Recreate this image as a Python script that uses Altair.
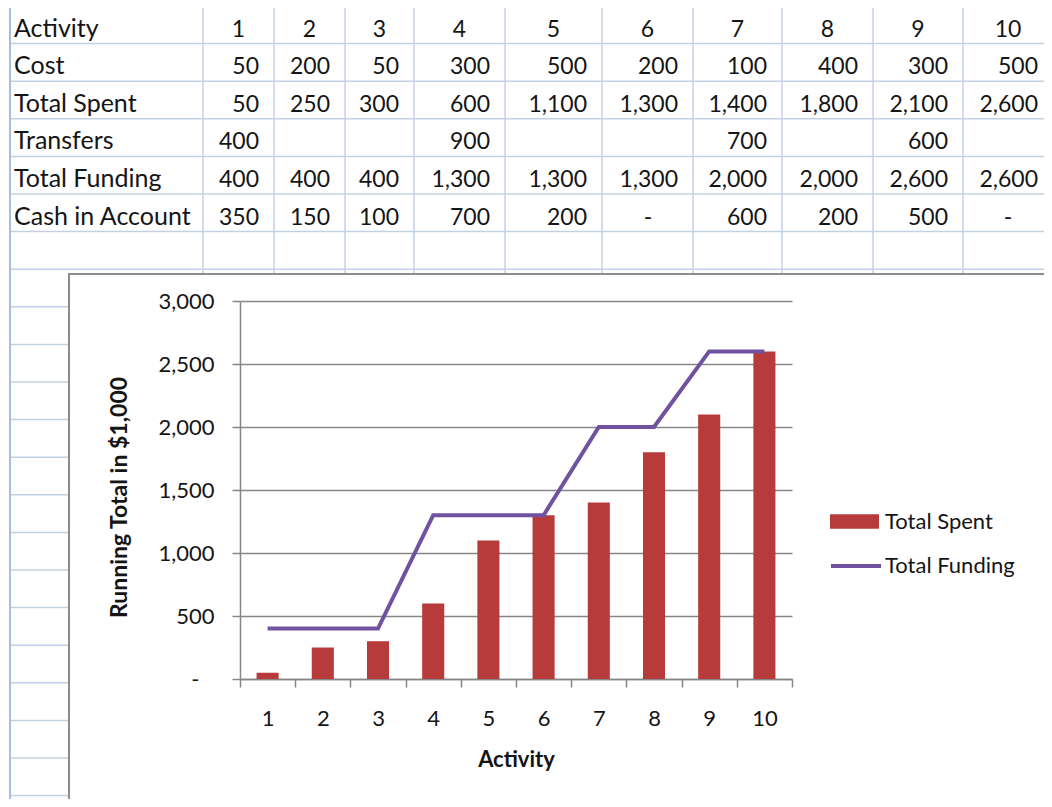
import altair as alt
import pandas as pd

# ---------------- data ----------------
activity = [1, 2, 3, 4, 5, 6, 7, 8, 9, 10]
cost = [50, 200, 50, 300, 500, 200, 100, 400, 300, 500]
total_spent = [50, 250, 300, 600, 1100, 1300, 1400, 1800, 2100, 2600]
transfers = [400, None, None, 900, None, None, 700, None, 600, None]
total_funding = [400, 400, 400, 1300, 1300, 1300, 2000, 2000, 2600, 2600]
cash_in_account = [350, 150, 100, 700, 200, 0, 600, 200, 500, 0]
row_labels = ["Activity", "Cost", "Total Spent", "Transfers", "Total Funding", "Cash in Account"]
series_names = ["Total Spent", "Total Funding"]
y_ticks = [0, 500, 1000, 1500, 2000, 2500, 3000]

# ---------------- layout / style ----------------
W, H = 1036, 791
FONT = "Lato"
TXT = "#151515"
SHEET_LINE = "#c3d0e4"
AX = "#868686"
BAR = "#b83b3b"
LINE = "#7052a0"
col_edges = [2, 195, 266, 337, 406, 497, 594, 685, 774, 865, 955, 1045]
n_sheet_rows = 22
row_top, row_h = -2, 37.6
frame_box = dict(x=61, x2=1040, y=266)
plot_x_range = [232, 784]
plot_y_range = [671, 293]

sx = alt.Scale(domain=[0, W], range=[0, W])
sy = alt.Scale(domain=[0, n_sheet_rows - 1], range=[row_top, row_top + row_h * (n_sheet_rows - 1)])

# ---------------- spreadsheet background ----------------
rows = [activity, cost, total_spent, transfers, total_funding, cash_in_account]
cells = []
for r, (lab, vals) in enumerate(zip(row_labels, rows)):
    cells.append(dict(row=r + 1, xp=col_edges[0], text=lab, kind="label"))
    for c, v in enumerate(vals):
        if v is None:
            continue
        if r == 0:
            cells.append(dict(row=r + 1, xp=(col_edges[c + 1] + col_edges[c + 2]) / 2, text=str(v), kind="center"))
        elif v == 0:
            cells.append(dict(row=r + 1, xp=col_edges[c + 2], text="-", kind="dash"))
        else:
            cells.append(dict(row=r + 1, xp=col_edges[c + 2], text=f"{v:,}", kind="num"))
cells_df = pd.DataFrame(cells)


def text_layer(kind, align, dx, size):
    return alt.Chart(cells_df[cells_df.kind == kind]).mark_text(
        align=align, baseline="alphabetic", dx=dx, dy=-7, font=FONT, fontSize=size, color=TXT
    ).encode(
        x=alt.X("xp:Q", scale=sx, axis=None),
        y=alt.Y("row:Q", scale=sy, axis=None),
        text="text:N",
    )


row_bounds = [k for k in range(n_sheet_rows)]
upper_rows = [k for k in row_bounds if row_top + row_h * k < frame_box["y"]]
lower_rows = [k for k in row_bounds if row_top + row_h * k >= frame_box["y"]]

hlines_top = alt.Chart(pd.DataFrame({"k": upper_rows})).mark_rule(
    color=SHEET_LINE, strokeWidth=1.5
).encode(y=alt.Y("k:Q", scale=sy, axis=None), x=alt.value(2), x2=alt.value(W))

hlines_low = alt.Chart(pd.DataFrame({"k": lower_rows})).mark_rule(
    color=SHEET_LINE, strokeWidth=1.5
).encode(y=alt.Y("k:Q", scale=sy, axis=None), x=alt.value(2), x2=alt.value(frame_box["x"]))

vlines = alt.Chart(pd.DataFrame({"e": col_edges[1:]})).mark_rule(
    color=SHEET_LINE, strokeWidth=1.5
).encode(x=alt.X("e:Q", scale=sx, axis=None), y=alt.value(0), y2=alt.value(frame_box["y"]))

left_line = alt.Chart(pd.DataFrame({"e": col_edges[:1]})).mark_rule(
    color="#a9bedd", strokeWidth=2
).encode(x=alt.X("e:Q", scale=sx, axis=None), y=alt.value(0), y2=alt.value(H))

sheet = alt.layer(
    hlines_top, hlines_low, vlines, left_line,
    text_layer("label", "left", 4, 25),
    text_layer("center", "center", 0, 23),
    text_layer("num", "right", -15, 23),
    text_layer("dash", "center", -45, 23),
)

frame = alt.Chart(pd.DataFrame({"a": [0]})).mark_rect(
    fill="white", fillOpacity=0, stroke="#8c8c8c", strokeWidth=2
).encode(
    x=alt.value(frame_box["x"]), x2=alt.value(frame_box["x2"]),
    y=alt.value(frame_box["y"]), y2=alt.value(H + 20),
)

# ---------------- the chart ----------------
chart_df = pd.DataFrame({
    "Activity": activity + activity,
    "value": total_spent + total_funding,
    "series": [series_names[0]] * len(activity) + [series_names[1]] * len(activity),
})

x_enc = alt.X(
    "Activity:O",
    scale=alt.Scale(range=plot_x_range, paddingInner=0, paddingOuter=0),
    axis=alt.Axis(
        orient="bottom", offset=plot_y_range[0] - H, title="Activity", tickBand="extent",
        labelAngle=0, labelFont=FONT, labelFontSize=22, labelColor=TXT, labelPadding=21,
        titleFont=FONT, titleFontSize=22, titleFontWeight="bold", titleColor=TXT, titlePadding=20,
        domainColor=AX, domainWidth=1.5, tickColor=AX, tickWidth=1.5, tickSize=8, grid=False,
    ),
)
y_enc = alt.Y(
    "value:Q",
    scale=alt.Scale(domain=[0, 3000], range=plot_y_range, nice=False),
    axis=alt.Axis(
        orient="left", offset=-plot_x_range[0], values=y_ticks, title="Running Total in $1,000",
        labelExpr="datum.value == 0 ? '-' : format(datum.value, ',')",
        labelFont=FONT, labelFontSize=22, labelColor=TXT,
        labelPadding={"condition": {"test": "datum.value == 0", "value": 33}, "value": 18},
        titleFont=FONT, titleFontSize=23, titleFontWeight="bold", titleColor=TXT, titlePadding=26,
        titleY=489,
        domainColor=AX, domainWidth=1.5, tickColor=AX, tickWidth=1.5, tickSize=8,
        grid=True, gridColor=AX, gridWidth=1.5,
    ),
)

bars = alt.Chart(chart_df[chart_df.series == series_names[0]]).mark_bar(
    width=alt.RelativeBandSize(0.4)
).encode(
    x=x_enc, y=y_enc,
    fill=alt.Fill("series:N", scale=alt.Scale(domain=[series_names[0]], range=[BAR]),
                  legend=alt.Legend(title=None, orient="none", legendX=822, legendY=489, padding=0,
                                    symbolType="M-1,-0.3H1V0.3H-1Z", symbolSize=2401, symbolStrokeWidth=0,
                                    labelFont=FONT, labelFontSize=22, labelColor=TXT, labelOffset=6)),
)

line = alt.Chart(chart_df[chart_df.series == series_names[1]]).mark_line(strokeWidth=4).encode(
    x=x_enc, y=y_enc,
    stroke=alt.Stroke("series:N", scale=alt.Scale(domain=[series_names[1]], range=[LINE]),
                      legend=alt.Legend(title=None, orient="none", legendX=821, legendY=531, padding=0,
                                        symbolType="stroke", symbolSize=2500, symbolStrokeWidth=4,
                                        labelFont=FONT, labelFontSize=22, labelColor=TXT, labelOffset=2)),
)

plot = alt.layer(bars, line)

chart = alt.layer(sheet, frame, plot).resolve_scale(
    x="independent", y="independent"
).properties(
    width=W, height=H, autosize=alt.AutoSizeParams(type="none"), padding=0
).configure_view(stroke=None)

chart.save("out.html", embed_options={"renderer": "svg", "actions": False})
